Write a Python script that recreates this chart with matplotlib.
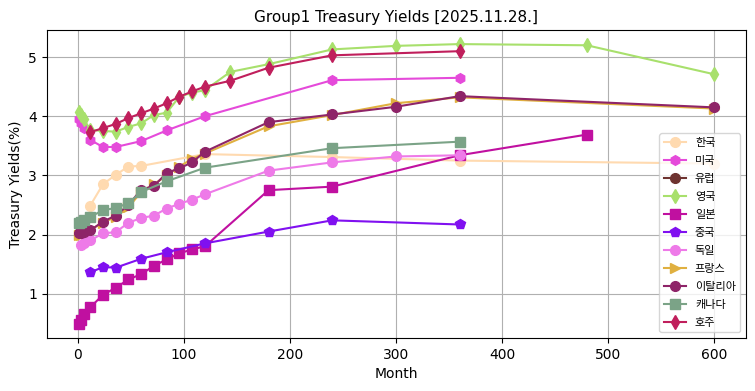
import matplotlib
matplotlib.use('Agg')
from matplotlib import pyplot as plt

plt.rcParams['font.family'] = ['DejaVu Sans', 'Noto Sans CJK KR']

# 만기(개월) / 금리(%)
kr_m = [12, 24, 36, 48, 60, 120, 240, 360, 600]
kr_y = [2.49, 2.85, 3.01, 3.15, 3.16, 3.36, 3.31, 3.25, 3.20]

us_m = [1, 3, 6, 12, 24, 36, 60, 84, 120, 240, 360]
us_y = [3.95, 3.88, 3.80, 3.60, 3.48, 3.48, 3.58, 3.76, 4.00, 4.61, 4.65]

eu_m = []
eu_y = []

uk_m = [1, 3, 6, 12, 24, 36, 48, 60, 72, 84, 96, 108, 120, 144, 180, 240, 300, 360, 480, 600]
uk_y = [4.07, 4.02, 3.95, 3.77, 3.75, 3.74, 3.82, 3.88, 4.02, 4.06, 4.33, 4.40, 4.44,
        4.75, 4.88, 5.13, 5.19, 5.22, 5.20, 4.71]

jp_m = [1, 3, 6, 12, 24, 36, 48, 60, 72, 84, 96, 108, 120, 180, 240, 360, 480]
jp_y = [0.49, 0.56, 0.66, 0.77, 0.98, 1.10, 1.24, 1.33, 1.47, 1.58, 1.68, 1.75, 1.80,
        2.75, 2.81, 3.34, 3.69]

cn_m = [12, 24, 36, 60, 84, 120, 180, 240, 360]
cn_y = [1.36, 1.45, 1.44, 1.59, 1.70, 1.85, 2.05, 2.24, 2.17]

de_m = [3, 6, 12, 24, 36, 48, 60, 72, 84, 96, 108, 120, 180, 240, 300, 360]
de_y = [1.83, 1.86, 1.90, 2.02, 2.04, 2.20, 2.28, 2.32, 2.44, 2.52, 2.59, 2.68,
        3.08, 3.22, 3.32, 3.34]

fr_m = [1, 3, 6, 12, 24, 36, 48, 60, 72, 84, 96, 108, 120, 180, 240, 300, 360, 600]
fr_y = [2.00, 2.00, 2.03, 2.08, 2.20, 2.30, 2.46, 2.72, 2.85, 3.00, 3.15, 3.28, 3.37,
        3.83, 4.02, 4.22, 4.32, 4.13]

it_m = [1, 3, 6, 12, 24, 36, 48, 60, 72, 84, 96, 108, 120, 180, 240, 300, 360, 600]
it_y = [2.02, 2.02, 2.05, 2.07, 2.22, 2.32, 2.50, 2.76, 2.82, 3.04, 3.12, 3.22, 3.40,
        3.90, 4.03, 4.16, 4.34, 4.15]

ca_m = [1, 3, 6, 12, 24, 36, 48, 60, 84, 120, 240, 360]
ca_y = [2.20, 2.21, 2.24, 2.30, 2.41, 2.45, 2.53, 2.72, 2.90, 3.13, 3.46, 3.57]

au_m = [12, 24, 36, 48, 60, 72, 84, 96, 108, 120, 144, 180, 240, 360]
au_y = [3.73, 3.80, 3.87, 3.97, 4.05, 4.13, 4.22, 4.33, 4.42, 4.50, 4.60, 4.82, 5.03, 5.10]

series = [
    ('한국', kr_m, kr_y, '#FFDAB0', 'o'),
    ('미국', us_m, us_y, '#E54ADA', 'h'),
    ('유럽', eu_m, eu_y, '#6E3330', 'o'),
    ('영국', uk_m, uk_y, '#A8E06C', 'd'),
    ('일본', jp_m, jp_y, '#C010A0', 's'),
    ('중국', cn_m, cn_y, '#8010F0', 'p'),
    ('독일', de_m, de_y, '#EE7AE8', 'o'),
    ('프랑스', fr_m, fr_y, '#E0B040', '>'),
    ('이탈리아', it_m, it_y, '#8E2468', 'o'),
    ('캐나다', ca_m, ca_y, '#7BA387', 's'),
    ('호주', au_m, au_y, '#C01F5C', 'd'),
]

fig = plt.figure(figsize=(7.55, 3.91), dpi=100)
ax = fig.add_subplot(111)
for name, m, y, c, mk in series:
    ax.plot(m, y, color=c, marker=mk, markersize=7, linewidth=1.5, label=name)

ax.set_title('Group1 Treasury Yields [2025.11.28.]', fontsize=11)
ax.set_xlabel('Month', fontsize=10)
ax.set_ylabel('Treasury Yields(%)', fontsize=10)
ax.grid(True, color='#b0b0b0')
ax.legend(loc='lower right', labelspacing=0.72,
          prop={'family': ['Noto Sans CJK KR', 'DejaVu Sans'], 'size': 8})
fig.subplots_adjust(left=0.062, right=0.988, top=0.923, bottom=0.136)
fig.savefig('out.png', dpi=100)
